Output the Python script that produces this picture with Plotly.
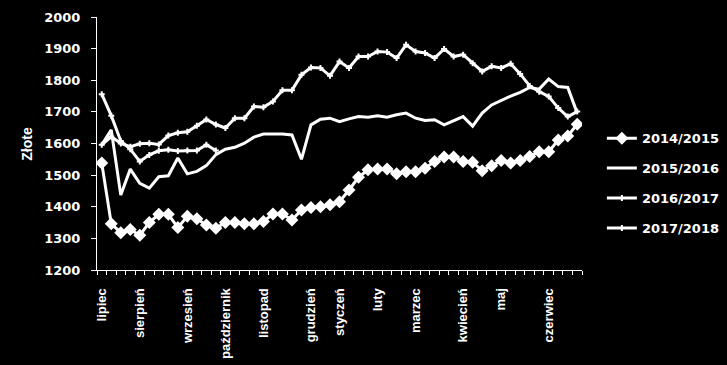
import plotly.graph_objects as go

# weekly observations, July .. June (51 weeks)
month_labels = ["lipiec", "sierpień", "wrzesień", "październik", "listopad", "grudzień",
                "styczeń", "luty", "marzec", "kwiecień", "maj", "czerwiec"]
month_positions = [0, 4, 9, 13, 17, 22, 25, 29, 33, 38, 42, 47]

s2014_2015 = [1538, 1346, 1318, 1328, 1310, 1350, 1376, 1376, 1334, 1370, 1362, 1342, 1332,
              1350, 1350, 1346, 1346, 1353, 1377, 1377, 1358, 1390, 1398, 1400, 1406, 1416,
              1453, 1493, 1517, 1519, 1519, 1504, 1511, 1511, 1522, 1543, 1557, 1557, 1543,
              1541, 1514, 1530, 1546, 1538, 1546, 1559, 1574, 1574, 1611, 1624, 1661]
s2015_2016 = [1596, 1643, 1437, 1519, 1474, 1459, 1495, 1498, 1554, 1504, 1512, 1530, 1565,
              1582, 1588, 1601, 1620, 1630, 1630, 1630, 1627, 1550, 1659, 1677, 1680, 1669,
              1678, 1685, 1683, 1688, 1683, 1691, 1696, 1680, 1673, 1675, 1659, 1673, 1685,
              1655, 1696, 1722, 1737, 1750, 1762, 1777, 1772, 1804, 1780, 1777, 1696]
s2016_2017 = [1596, 1622, 1600, 1590, 1599, 1601, 1597, 1625, 1634, 1637, 1656, 1676, 1660,
              1649, 1680, 1680, 1717, 1715, 1733, 1768, 1768, 1817, 1840, 1839, 1814, 1859,
              1839, 1875, 1875, 1891, 1889, 1870, 1912, 1891, 1886, 1870, 1899, 1875, 1881,
              1854, 1828, 1844, 1839, 1852, 1820, 1782, 1764, 1749, 1712, 1685, 1701]
s2017_2018 = [1756, 1688, 1608, 1582, 1543, 1564, 1577, 1580, 1576, 1578, 1578, 1596, 1578]

n_weeks = len(s2014_2015)

series = [
    ("2014/2015", s2014_2015, dict(symbol="diamond", size=10, color="white")),
    ("2015/2016", s2015_2016, None),
    ("2016/2017", s2016_2017, dict(symbol="cross", size=5, color="white")),
    ("2017/2018", s2017_2018, dict(symbol="cross", size=5, color="white")),
]

fig = go.Figure()
for name, vals, mk in series:
    kw = dict(
        x=list(range(len(vals))), y=vals, name=name, legendgroup=name,
        line=dict(color="white", width=3),
    )
    if mk:
        kw["mode"] = "lines+markers"
        kw["marker"] = mk
    else:
        kw["mode"] = "lines"
    fig.add_trace(go.Scatter(**kw))

tick_font = dict(family="DejaVu Sans", size=13, color="white", weight="bold")

fig.update_layout(
    width=727, height=365,
    margin=dict(l=97, r=145, t=17, b=95, autoexpand=False),
    paper_bgcolor="black", plot_bgcolor="black",
    showlegend=True,
    legend=dict(
        x=1.041, xanchor="left", y=0.58, yanchor="top",
        font=dict(family="DejaVu Sans", size=13, color="white", weight="bold"),
        bgcolor="rgba(0,0,0,0)", tracegroupgap=10, itemwidth=30,
    ),
    xaxis=dict(
        range=[-0.5, n_weeks - 0.5], showgrid=False, zeroline=False, automargin=False,
        showline=True, linecolor="white", linewidth=1,
        tickmode="array", tickvals=month_positions, ticktext=month_labels,
        tickangle=-90, ticks="", ticklabelstandoff=12,
        tickfont=dict(family="Liberation Sans", size=13, color="white", weight="bold"),
        minor=dict(tickmode="linear", tick0=-0.5, dtick=1, ticks="outside",
                   ticklen=4, tickcolor="white", tickwidth=1, showgrid=False),
    ),
    yaxis=dict(
        range=[1200, 2000], dtick=100, tick0=1200, showgrid=False, zeroline=False,
        automargin=False,
        showline=True, linecolor="white", linewidth=1,
        ticks="outside", ticklen=5, tickcolor="white", tickwidth=1,
        tickfont=tick_font, ticklabelstandoff=8,
    ),
    annotations=[dict(
        text="Złote", textangle=-90, showarrow=False,
        xref="paper", yref="paper", x=-0.146, y=0.5, xanchor="center", yanchor="middle",
        font=dict(family="Liberation Sans", size=14, color="white", weight="bold"),
    )],
)

fig.write_html("out.html")
